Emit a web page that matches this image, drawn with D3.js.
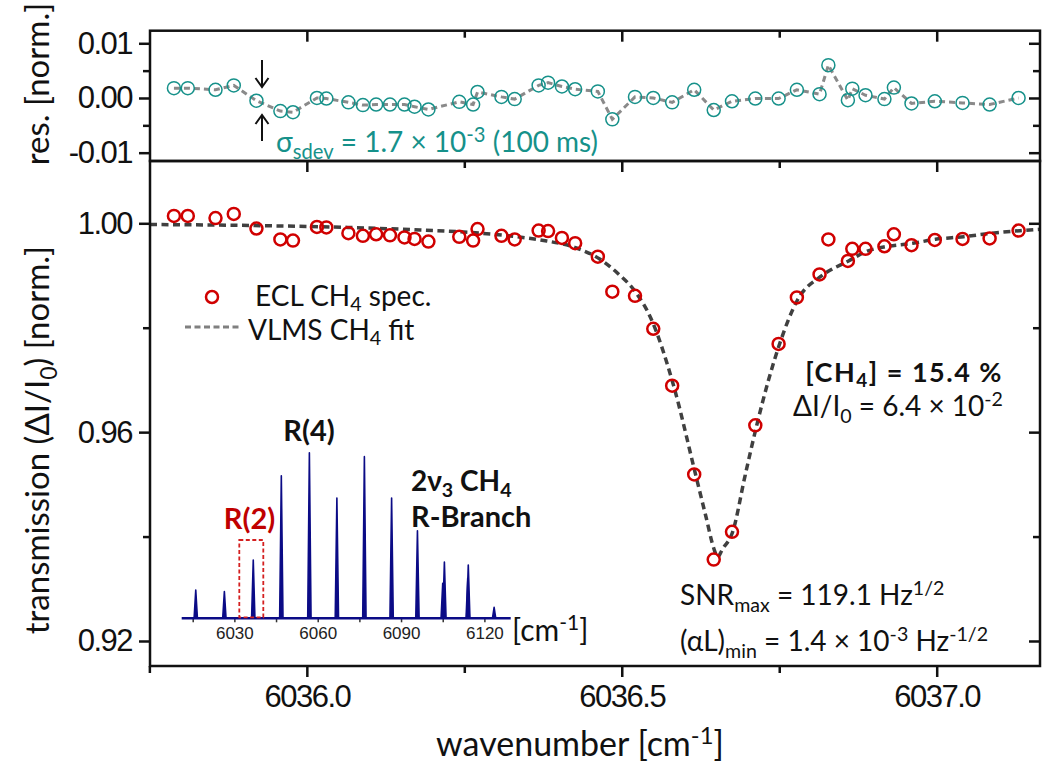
<!DOCTYPE html>
<html>
<head>
<meta charset="utf-8">
<script src="https://cdn.jsdelivr.net/npm/d3@7"></script>
<style>
  html, body { margin: 0; padding: 0; background: #fff; }
  svg { display: block; }
</style>
</head>
<body>
<svg id="chart" width="1044" height="770"></svg>
<script>
// ECL scan points across the R(2) manifold [cm-1]
const wavenumber = [6035.789, 6035.811, 6035.855, 6035.884, 6035.920, 6035.958, 6035.978, 6036.016,
  6036.031, 6036.066, 6036.089, 6036.110, 6036.132, 6036.155, 6036.171, 6036.193, 6036.242, 6036.264,
  6036.271, 6036.309, 6036.330, 6036.368, 6036.383, 6036.405, 6036.426, 6036.462, 6036.485, 6036.521,
  6036.550, 6036.580, 6036.615, 6036.646, 6036.675, 6036.712, 6036.749, 6036.778, 6036.814, 6036.828,
  6036.859, 6036.866, 6036.887, 6036.917, 6036.932, 6036.960, 6036.997, 6037.041, 6037.084, 6037.130];

// Normalised transmission measured at each scan point
const transmission = [1.0014, 1.0014, 1.0010, 1.0018, 0.9990, 0.9969, 0.9967, 0.9993,
  0.9992, 0.9981, 0.9976, 0.9979, 0.9977, 0.9973, 0.9970, 0.9965, 0.9974, 0.9967,
  0.9989, 0.9976, 0.9969, 0.9986, 0.9985, 0.9972, 0.9962, 0.9936, 0.9869, 0.9861,
  0.9798, 0.9689, 0.9519, 0.9356, 0.9409, 0.9613, 0.9769, 0.9858, 0.9902, 0.9969,
  0.9928, 0.9951, 0.9951, 0.9956, 0.9979, 0.9958, 0.9968, 0.9970, 0.9971, 0.9986];

// Fit residuals (data - fit) at each scan point
const residual = [0.0018, 0.0018, 0.0015, 0.0023, -0.0005, -0.0024, -0.0026, 0.0000,
  -0.0001, -0.0008, -0.0013, -0.0012, -0.0012, -0.0012, -0.0016, -0.0021, -0.0007, -0.0012,
  0.0011, 0.0002, -0.0002, 0.0023, 0.0028, 0.0021, 0.0016, 0.0012, -0.0039, 0.0002,
  0.0000, -0.0008, 0.0015, -0.0022, -0.0006, -0.0001, -0.0001, 0.0015, 0.0007, 0.0060,
  -0.0004, 0.0017, 0.0005, -0.0002, 0.0019, -0.0010, -0.0006, -0.0009, -0.0012, 0.0000];

// VLMS line-shape fit
const fitWavenumber = [6035.751, 6035.910, 6036.069, 6036.180, 6036.260, 6036.323, 6036.371, 6036.428,
  6036.465, 6036.493, 6036.523, 6036.546, 6036.582, 6036.617, 6036.633, 6036.647, 6036.652, 6036.660,
  6036.676, 6036.696, 6036.714, 6036.733, 6036.750, 6036.779, 6036.817, 6036.860, 6036.890, 6036.919,
  6036.962, 6036.998, 6037.043, 6037.086, 6037.132, 6037.164];
const fitTransmission = [0.99977, 0.99958, 0.99920, 0.99872, 0.99824, 0.99757, 0.99680, 0.99527,
  0.99316, 0.99048, 0.98665, 0.98186, 0.96903, 0.95198, 0.94413, 0.93742, 0.93608, 0.93762,
  0.94087, 0.95179, 0.96117, 0.96998, 0.97669, 0.98531, 0.98991, 0.99278, 0.99469, 0.99552,
  0.99617, 0.99694, 0.99743, 0.99808, 0.99858, 0.99885];

// Axis ticks
const xMajorTicks = [6036.0, 6036.5, 6037.0];
const xMinorTicks = [6035.75, 6036.25, 6036.75];
const mainMajorTicks = [0.92, 0.96, 1.00];
const mainMinorTicks = [0.94, 0.98];
const resMajorTicks = [-0.01, 0.00, 0.01];
const resMinorTicks = [-0.005, 0.005];

// Inset: 2v3 R-branch stick spectrum (line centre, relative strength)
const branchCenters = [6016.1, 6026.4, 6036.8, 6046.9, 6057.0, 6066.9, 6076.8, 6086.6, 6095.9,
  6105.0, 6105.6, 6114.0, 6114.2, 6123.5];
const branchStrengths = [0.171, 0.161, 0.352, 0.861, 1.000, 0.726, 0.976, 0.726, 0.529,
  0.211, 0.340, 0.242, 0.322, 0.066];
const insetTicks = [6015, 6030, 6045, 6060, 6075, 6090, 6105, 6120];
const insetLabels = [6030, 6060, 6090, 6120];

const svg = d3.select('#chart');
const L = 150, R = 1040, resTop = 30.7, midY = 161, mainBottom = 666;
const TEXT_FONT = 'Lato, "Open Sans", sans-serif';
const TICK_FONT = '"Liberation Sans", Arial, sans-serif';
const RED = '#d00000', TEAL = '#16918a', NAVY = '#0b0b86';

const x = d3.scaleLinear().domain([6035.751, 6037.164]).range([L, R]);
const yMain = d3.scaleLinear().domain([0.91521, 1.01193]).range([mainBottom, midY]);
const yRes = d3.scaleLinear().domain([-0.01152, 0.0123]).range([midY, resTop]);

const fmt2 = v => d3.format('.2f')(v).replace('\u2212', '-');

function addAxis(axis, tx, ty, showLabels) {
  const g = svg.append('g').attr('transform', `translate(${tx},${ty})`).call(axis);
  g.select('.domain').remove();
  g.selectAll('.tick line').attr('stroke', '#111').attr('stroke-width', 2.5);
  if (showLabels) {
    g.selectAll('.tick text')
      .attr('font-family', TICK_FONT).attr('font-size', 31)
      .attr('letter-spacing', '-1.5px').attr('fill', '#111');
  } else {
    g.selectAll('.tick text').remove();
  }
  return g;
}

// Rich text with sub/superscripts
function richText(parent, px, py, parts, opt) {
  const size = opt.size;
  const scale = opt.scriptScale || 0.7;
  const subShift = opt.subShift || 0.25;
  const t = parent.append('text')
    .attr('x', px).attr('y', py)
    .attr('font-family', opt.font || TEXT_FONT)
    .attr('font-size', size)
    .attr('font-weight', opt.bold ? 700 : 400)
    .attr('fill', opt.fill || '#111')
    .attr('text-anchor', opt.anchor || 'start');
  if (opt.spacing) t.attr('letter-spacing', opt.spacing);
  if (opt.transform) t.attr('transform', opt.transform);
  let shift = 0;
  parts.forEach(p => {
    const target = p.sub ? size * subShift : p.sup ? -size * 0.36 : 0;
    const ts = t.append('tspan').attr('dy', target - shift).text(p.t);
    if (p.sub || p.sup) ts.attr('font-size', size * scale);
    shift = target;
  });
  return t;
}

// ---------- residual panel ----------
addAxis(d3.axisLeft(yRes).tickValues(resMajorTicks).tickSize(11).tickPadding(7).tickFormat(fmt2), L, 0, true);
addAxis(d3.axisLeft(yRes).tickValues(resMinorTicks).tickSize(7), L, 0, false);
addAxis(d3.axisRight(yRes).tickValues(resMajorTicks).tickSize(-11), R, 0, false);
addAxis(d3.axisRight(yRes).tickValues(resMinorTicks).tickSize(-7), R, 0, false);
addAxis(d3.axisTop(x).tickValues(xMajorTicks).tickSize(-11), 0, resTop, false);
addAxis(d3.axisTop(x).tickValues(xMinorTicks.slice(1)).tickSize(-7), 0, resTop, false);

const resPts = wavenumber.map((w, i) => [w, residual[i]]);
svg.append('path')
  .datum(resPts)
  .attr('d', d3.line().x(d => x(d[0])).y(d => yRes(d[1])))
  .attr('fill', 'none').attr('stroke', '#8a8a8a').attr('stroke-width', 3)
  .attr('stroke-dasharray', '6,4');
svg.append('g').selectAll('circle').data(resPts).join('circle')
  .attr('cx', d => x(d[0])).attr('cy', d => yRes(d[1])).attr('r', 6.5)
  .attr('fill', 'none').attr('stroke', TEAL).attr('stroke-width', 1.5);

// sigma arrows
const arrows = svg.append('g').attr('stroke', '#111').attr('stroke-width', 2).attr('fill', 'none');
arrows.append('line').attr('x1', 262).attr('y1', 60).attr('x2', 262).attr('y2', 86);
arrows.append('path').attr('d', 'M255.5,78 L262,87 L268.5,78');
arrows.append('line').attr('x1', 262).attr('y1', 141).attr('x2', 262).attr('y2', 116);
arrows.append('path').attr('d', 'M255.5,124 L262,115 L268.5,124');

richText(svg, 276, 152, [
  { t: '\u03c3' }, { t: 'sdev', sub: true }, { t: ' = 1.7 \u00d7 10' }, { t: '-3', sup: true }, { t: ' (100 ms)' }
], { size: 28, fill: TEAL, scriptScale: 0.72 });

svg.append('rect').attr('x', L).attr('y', resTop).attr('width', R - L).attr('height', midY - resTop)
  .attr('fill', 'none').attr('stroke', '#111').attr('stroke-width', 2.5);

// ---------- main panel ----------
addAxis(d3.axisLeft(yMain).tickValues(mainMajorTicks).tickSize(11).tickPadding(7).tickFormat(fmt2), L, 0, true);
addAxis(d3.axisLeft(yMain).tickValues(mainMinorTicks).tickSize(7), L, 0, false);
addAxis(d3.axisRight(yMain).tickValues(mainMajorTicks).tickSize(-11), R, 0, false);
addAxis(d3.axisRight(yMain).tickValues(mainMinorTicks).tickSize(-7), R, 0, false);
addAxis(d3.axisBottom(x).tickValues(xMajorTicks).tickSize(11).tickPadding(8).tickFormat(d3.format('.1f')), 0, mainBottom, true);
addAxis(d3.axisBottom(x).tickValues(xMinorTicks).tickSize(7), 0, mainBottom, false);
addAxis(d3.axisTop(x).tickValues(xMajorTicks).tickSize(-11), 0, midY, false);
addAxis(d3.axisTop(x).tickValues(xMinorTicks.slice(1)).tickSize(-7), 0, midY, false);

const fitPts = fitWavenumber.map((w, i) => [w, fitTransmission[i]]);
svg.append('path')
  .datum(fitPts)
  .attr('d', d3.line().curve(d3.curveMonotoneX).x(d => x(d[0])).y(d => yMain(d[1])))
  .attr('fill', 'none').attr('stroke', '#404040').attr('stroke-width', 3.5)
  .attr('stroke-dasharray', '7,4.5');

const dataPts = wavenumber.map((w, i) => [w, transmission[i]]);
svg.append('g').selectAll('circle').data(dataPts).join('circle')
  .attr('cx', d => x(d[0])).attr('cy', d => yMain(d[1])).attr('r', 6)
  .attr('fill', 'none').attr('stroke', RED).attr('stroke-width', 2.5);

svg.append('rect').attr('x', L).attr('y', midY).attr('width', R - L).attr('height', mainBottom - midY)
  .attr('fill', 'none').attr('stroke', '#111').attr('stroke-width', 2.5);

// legend
svg.append('circle').attr('cx', 212).attr('cy', 297).attr('r', 6)
  .attr('fill', 'none').attr('stroke', RED).attr('stroke-width', 2.5);
richText(svg, 255, 306, [{ t: 'ECL CH' }, { t: '4', sub: true }, { t: ' spec.' }], { size: 28, subShift: 0.18 });
svg.append('line').attr('x1', 185).attr('x2', 242).attr('y1', 327).attr('y2', 327)
  .attr('stroke', '#808080').attr('stroke-width', 3).attr('stroke-dasharray', '6,3.5');
richText(svg, 248, 340, [{ t: 'VLMS CH' }, { t: '4', sub: true }, { t: ' fit' }], { size: 28, subShift: 0.18 });

// concentration / depth annotations
richText(svg, 1003, 382, [{ t: '[CH' }, { t: '4', sub: true }, { t: '] = 15.4 %' }],
  { size: 27, bold: true, anchor: 'end', spacing: '1.5px', subShift: 0.18 });
richText(svg, 1003, 416, [{ t: '\u0394I/I' }, { t: '0', sub: true }, { t: ' = 6.4 \u00d7 10' }, { t: '-2', sup: true }], { size: 28, anchor: 'end' });

richText(svg, 680, 605, [{ t: 'SNR' }, { t: 'max', sub: true }, { t: ' = 119.1 Hz' }, { t: '1/2', sup: true }], { size: 28 });
richText(svg, 680, 651, [{ t: '(\u03b1L)' }, { t: 'min', sub: true }, { t: '  = 1.4 \u00d7 10' }, { t: '-3', sup: true }, { t: ' Hz' }, { t: '-1/2', sup: true }], { size: 28 });

// ---------- inset: R-branch overview ----------
const xi = d3.scaleLinear().domain([6011.04, 6129.47]).range([181.7, 510.7]);
const yi = d3.scaleLinear().domain([0, 1]).range([618.3, 452.7]);

const insetAxis = svg.append('g').attr('transform', `translate(0,${yi(0)})`)
  .call(d3.axisBottom(xi).tickValues(insetTicks).tickSize(4).tickPadding(5)
    .tickFormat(d => insetLabels.includes(d) ? d : ''));
insetAxis.select('.domain').remove();
insetAxis.selectAll('.tick line').attr('stroke', '#333').attr('stroke-width', 1.5);
insetAxis.selectAll('.tick text').attr('font-family', TICK_FONT).attr('font-size', 17).attr('fill', '#222');

svg.append('line').attr('x1', xi.range()[0]).attr('x2', xi.range()[1])
  .attr('y1', yi(0)).attr('y2', yi(0)).attr('stroke', NAVY).attr('stroke-width', 2.5);

const sticks = branchCenters.map((c, i) => [c, branchStrengths[i]]);
svg.append('g').selectAll('path').data(sticks).join('path')
  .attr('d', d => `M${xi(d[0] - 0.6)},${yi(0)} L${xi(d[0])},${yi(d[1])} L${xi(d[0] + 0.6)},${yi(0)} Z`)
  .attr('fill', NAVY).attr('stroke', NAVY).attr('stroke-width', 1.6).attr('stroke-linejoin', 'round');

// highlighted R(2) line
svg.append('rect').attr('x', 239.3).attr('y', 540).attr('width', 24).attr('height', yi(0) - 540 - 1)
  .attr('fill', 'none').attr('stroke', '#d42020').attr('stroke-width', 1.8).attr('stroke-dasharray', '4,2.5');
richText(svg, 249.5, 529, [{ t: 'R(2)' }], { size: 29, bold: true, fill: '#c00000', anchor: 'middle' });
richText(svg, 309, 441, [{ t: 'R(4)' }], { size: 29, bold: true, anchor: 'middle' });
richText(svg, 411, 491, [{ t: '2\u03bd' }, { t: '3', sub: true }, { t: ' CH' }, { t: '4', sub: true }], { size: 28, bold: true, subShift: 0.2 });
richText(svg, 411, 527, [{ t: 'R-Branch' }], { size: 29, bold: true });
richText(svg, 512, 641, [{ t: '[cm' }, { t: '-1', sup: true }, { t: ']' }], { size: 30 });

// ---------- axis titles ----------
richText(svg, 580, 756, [{ t: 'wavenumber [cm' }, { t: '-1', sup: true }, { t: ']' }], { size: 34, anchor: 'middle' });
richText(svg, 0, 0, [{ t: 'transmission (\u0394I/I' }, { t: '0', sub: true }, { t: ') [norm.]' }],
  { size: 33, anchor: 'middle', transform: 'translate(49,440) rotate(-90)' });
richText(svg, 0, 0, [{ t: 'res. [norm.]' }],
  { size: 33, anchor: 'middle', transform: 'translate(49,84) rotate(-90)' });
</script>
</body>
</html>
